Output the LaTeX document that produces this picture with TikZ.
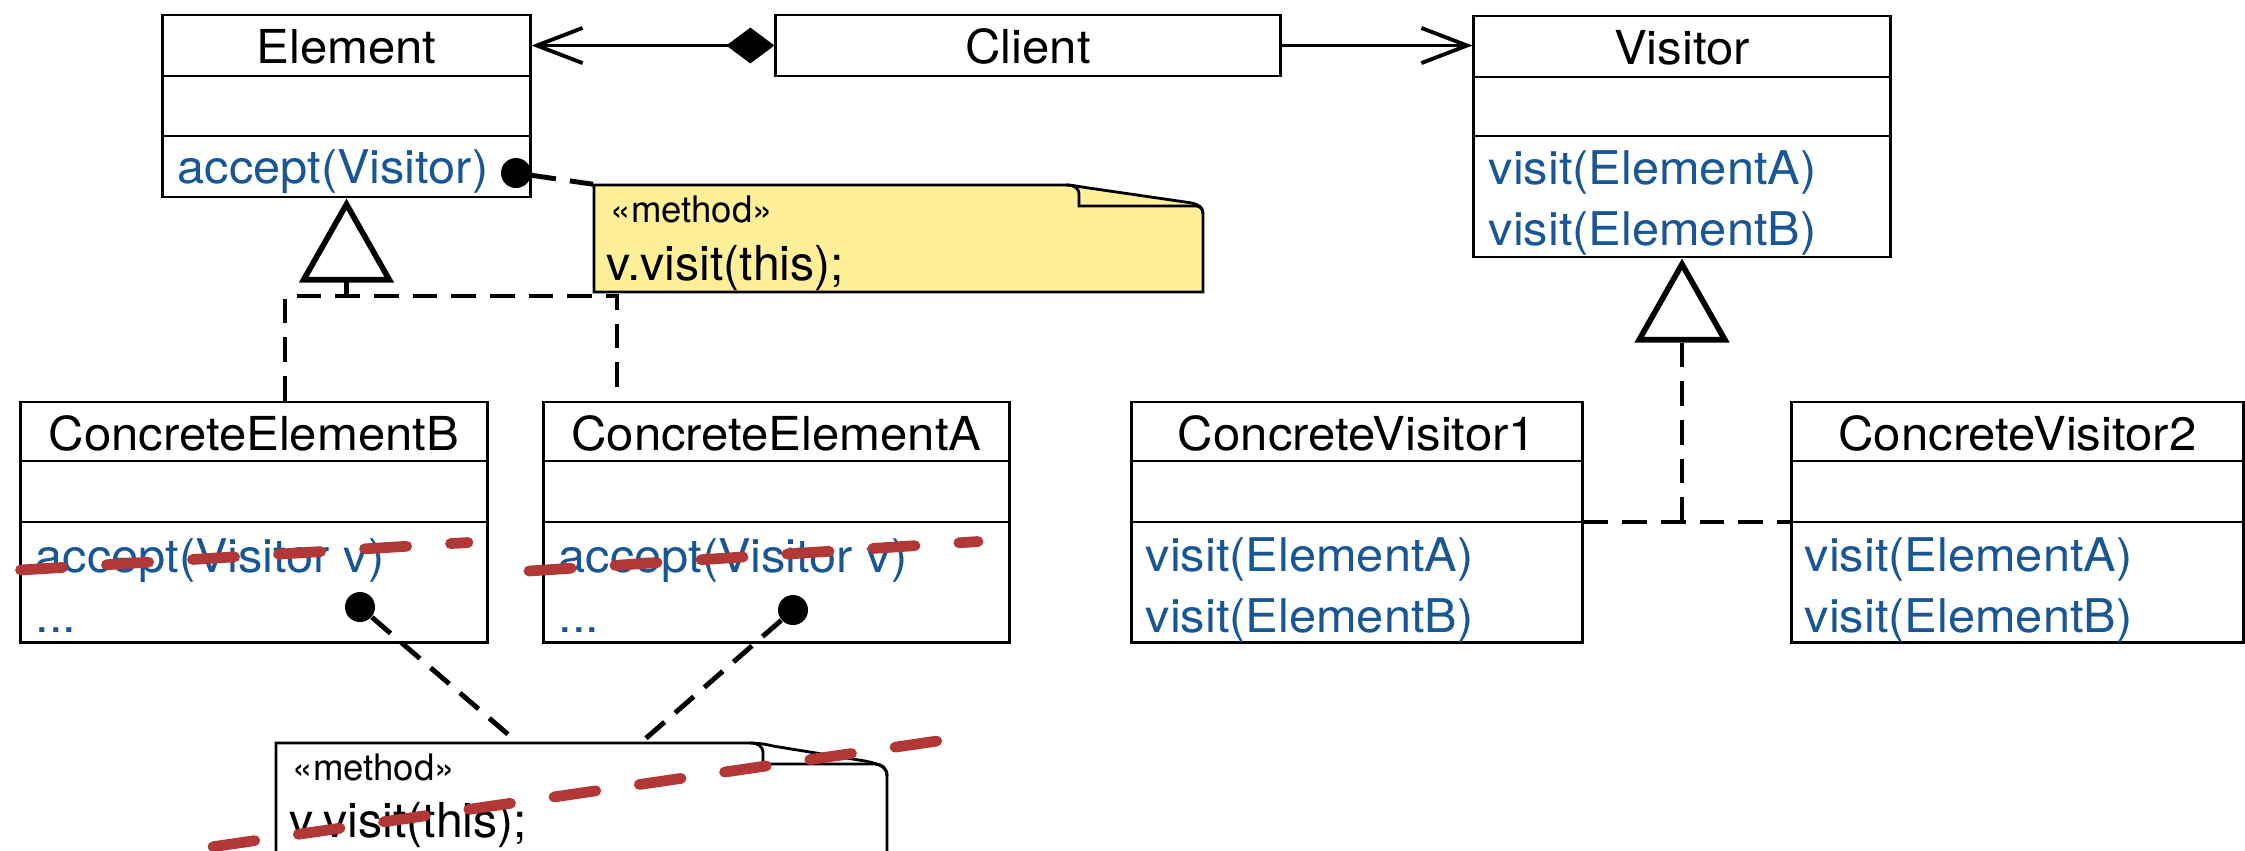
\documentclass[tikz,border=0pt]{standalone}
\usepackage{fontspec}
\setmainfont{TeX Gyre Heros}
\newfontfamily\opface[FakeStretch=1.05]{TeX Gyre Heros}
\newfontfamily\ttlface[FakeStretch=1.05]{TeX Gyre Heros}
\usetikzlibrary{arrows.meta}
\definecolor{opblue}{RGB}{24,86,150}
\definecolor{noteyellow}{RGB}{255,239,153}
\definecolor{strikered}{RGB}{178,55,55}
\newcommand\ttlf{\ttlface\fontsize{13.3pt}{16pt}\selectfont}
\newcommand\opf{\opface\fontsize{13.2pt}{16pt}\selectfont}
\newcommand\notef{\fontsize{13.7pt}{16pt}\selectfont}
\newcommand\smallf{\fontsize{10.4pt}{12pt}\selectfont}
\tikzset{
  cls/.style={draw, line width=0.8pt, inner sep=0pt, fill=white},
  divl/.style={line width=0.8pt},
  ttl/.style={font=\ttlf, text=black, anchor=base, inner sep=0pt},
  op/.style={font=\opf, text=opblue, anchor=base west, inner sep=0pt},
  conn/.style={line width=1.1pt},
  dsh/.style={line width=1.4pt, dash pattern=on 7pt off 4pt},
  dotc/.style={circle, fill=black, inner sep=0pt, minimum size=0.30cm},
  strike/.style={draw=strikered, line width=3.05pt, line cap=round, dash pattern=on 12pt off 12.5pt},
  notebox/.style={inner sep=0pt},
  notetxt/.style={anchor=base west, inner sep=0pt},
  gen/.style={-{Triangle[open, length=23.9pt, width=26.7pt, line width=1.6pt]}},
}
\begin{document}
\begin{tikzpicture}[x=0.01cm,y=-0.01cm]
\useasboundingbox (0,0) rectangle (2245,850);
\clip (0,0) rectangle (2245,850);

% ---------- Element ----------
\node[cls, minimum width=3.67cm, minimum height=1.82cm] (elem) at (346.5,106) {};
\draw[divl] (163,76) -- (530,76) (163,136) -- (530,136);
\node[ttl] (elemT) at (346.5,63) {Element};
\node[op] (elemOp) at (177,183) {accept(Visitor)};

% ---------- Client ----------
\node[cls, minimum width=5.04cm, minimum height=0.61cm] (client) at (1028,45.5) {};
\node[ttl] (clientT) at (1028,63) {Client};

% ---------- Visitor ----------
\node[cls, minimum width=4.16cm, minimum height=2.41cm] (visitor) at (1682,136.5) {};
\draw[divl] (1474,77) -- (1890,77) (1474,136) -- (1890,136);
\node[ttl] (visT) at (1682,64) {Visitor};
\node[op] (visOpA) at (1488,184) {visit(ElementA)};
\node[op] (visOpB) at (1488,245) {visit(ElementB)};

% ---------- ConcreteElementB ----------
\node[cls, minimum width=4.66cm, minimum height=2.40cm] (ceb) at (254,522) {};
\draw[divl] (21,461) -- (487,461) (21,522) -- (487,522);
\node[ttl] (cebT) at (254,450) {ConcreteElementB};
\node[op] (cebOp) at (35,572) {accept(Visitor v)};
\node[op] (cebMore) at (35,632) {...};

% ---------- ConcreteElementA ----------
\node[cls, minimum width=4.65cm, minimum height=2.40cm] (cea) at (776.5,522) {};
\draw[divl] (544,461) -- (1009,461) (544,522) -- (1009,522);
\node[ttl] (ceaT) at (776.5,450) {ConcreteElementA};
\node[op] (ceaOp) at (558,572) {accept(Visitor v)};
\node[op] (ceaMore) at (558,632) {...};

% ---------- ConcreteVisitor1 ----------
\node[cls, minimum width=4.50cm, minimum height=2.40cm] (cv1) at (1357,522) {};
\draw[divl] (1132,461) -- (1582,461) (1132,522) -- (1582,522);
\node[ttl] (cv1T) at (1357,450) {ConcreteVisitor1};
\node[op] (cv1OpA) at (1145,571) {visit(ElementA)};
\node[op] (cv1OpB) at (1145,632) {visit(ElementB)};

% ---------- ConcreteVisitor2 ----------
\node[cls, minimum width=4.51cm, minimum height=2.40cm] (cv2) at (2017.5,522) {};
\draw[divl] (1792,461) -- (2243,461) (1792,522) -- (2243,522);
\node[ttl] (cv2T) at (2017.5,450) {ConcreteVisitor2};
\node[op] (cv2OpA) at (1804,571) {visit(ElementA)};
\node[op] (cv2OpB) at (1804,632) {visit(ElementB)};

% ---------- associations ----------
\draw[conn, {Straight Barb[length=13pt, width=10pt]}-{Diamond[length=13.7pt, width=10.2pt]}]
  (client.west -| elem.east) -- (client.west);
\draw[conn, -{Straight Barb[length=13pt, width=10pt]}] (client.east) -- (client.east -| visitor.west);

% ---------- generalisations ----------
\coordinate (jE) at (346.5,296);
\draw[dsh] (285,402 |- ceb.north) -- (285,296) -- (617,296) -- (617,402 |- cea.north);
\draw[dsh, gen] (jE) -- (elem.south);

\coordinate (jV) at (1682,522);
\draw[dsh] (cv1.east |- jV) -- (cv2.west |- jV);
\draw[dsh, gen] (jV) -- (visitor.south);

% ---------- note 1 ----------
\node[notebox, minimum width=6.09cm, minimum height=1.07cm] (note1) at (898.5,238.5) {};
\filldraw[fill=noteyellow, line width=0.8pt]
  (594,292) -- (594,185) -- (1066,185) .. controls (1072,185) and (1076,186) .. (1082,187)
  -- (1192,203) .. controls (1199,205) and (1203,207) .. (1203,214) -- (1203,292) -- cycle;
\draw[line width=0.8pt] (1066,185) .. controls (1075,185) and (1079,188) .. (1079,195)
  -- (1079,206) -- (1196,206) .. controls (1200,206) and (1203,209) .. (1203,214);
\node[notetxt, font=\smallf] (n1a) at (610,222) {«method»};
\node[notetxt, font=\notef] (n1b) at (606,280) {v.visit(this);};

% ---------- note 2 ----------
\node[notebox, minimum width=6.11cm, minimum height=1.18cm] (note2) at (581.5,802) {};
\filldraw[fill=white, line width=0.8pt]
  (276,861) -- (276,743) -- (750,743) .. controls (758,743) and (765,744) .. (773,746)
  -- (865,761) .. controls (880,764) and (887,767) .. (887,776) -- (887,861) -- cycle;
\draw[line width=0.8pt] (750,743) .. controls (758,743) and (763,746) .. (763,753)
  -- (763,764) -- (875,764) .. controls (882,764) and (887,768) .. (887,776);
\node[notetxt, font=\smallf] (n2a) at (292,780) {«method»};
\node[notetxt, font=\notef] (n2b) at (289,837) {v.visit(this);};

% ---------- note attachments ----------
\node[dotc] (d1) at (516,173) {};
\node[dotc] (dB) at (360,607) {};
\node[dotc] (dA) at (793,610) {};
\draw[dsh] (d1) -- (note1.north west);
\draw[dsh] (dB) -- ([xshift=2.42cm]note2.north west);
\draw[dsh] (dA) -- ([xshift=3.66cm]note2.north west);

% ---------- red strike-throughs ----------
\draw[strike] (20.5,570) -- (468,542.5);
\draw[strike] (529,571) -- (978,541.5);
\draw[strike] (213,846.7) -- (944,740);
\end{tikzpicture}
\end{document}
